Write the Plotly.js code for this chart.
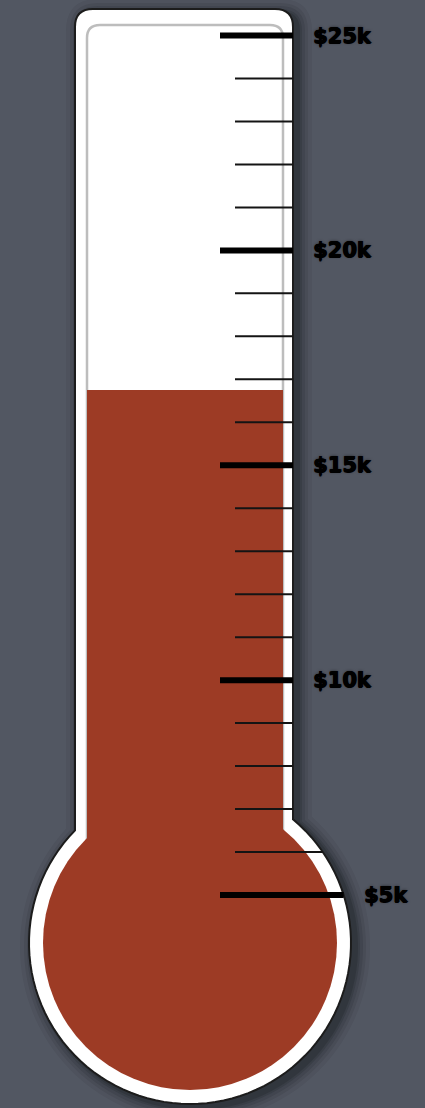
<!DOCTYPE html>
<html>
<head>
<meta charset="utf-8">
<script src="https://cdn.plot.ly/plotly-3.0.1.min.js"></script>
<style>
html,body{margin:0;padding:0;background:#525762;}
#chart{width:425px;height:1108px;}
</style>
</head>
<body>
<div id="chart"></div>
<script>
// ---- data ----
const categories = ['Raised'];
const raisedValues = [16.75];            // thousands of dollars
const majorTicks = [5, 10, 15, 20, 25];
const majorLabels = ['$5k', '$10k', '$15k', '$20k', '$25k'];
const minorTicks = [6, 7, 8, 9, 11, 12, 13, 14, 16, 17, 18, 19, 21, 22, 23, 24];

// ---- geometry / style ----
const W = 425, H = 1108;
const yRange = [0.044, 25.826];
const RED = '#9d3b25';
const BAR_BASE = 4;
const tube = {xL: 75, xR: 293, top: 9, r: 18, cx: 190, cy: 943, R: 161};
const channel = {xL: 87, xR: 283, top: 25, r: 13};
const bulbRed = 147;

const P = (x, y) => (x / W).toFixed(5) + ',' + (1 - y / H).toFixed(5);
const valToPx = v => (yRange[1] - v) / (yRange[1] - yRange[0]) * H;

function outlinePath(e, ox, oy) {
  const xL = tube.xL - e + ox, xR = tube.xR + e + ox, top = tube.top - e + oy;
  const r = tube.r + e, cx = tube.cx + ox, cy = tube.cy + oy, R = tube.R + e;
  const yJR = cy - Math.sqrt(R * R - (xR - cx) * (xR - cx));
  const yJL = cy - Math.sqrt(R * R - (cx - xL) * (cx - xL));
  let d = 'M' + P(xL, yJL) + ' L' + P(xL, top + r) + ' Q' + P(xL, top) + ' ' + P(xL + r, top) +
          ' L' + P(xR - r, top) + ' Q' + P(xR, top) + ' ' + P(xR, top + r) + ' L' + P(xR, yJR);
  const tR = Math.atan2(yJR - cy, xR - cx);
  let tL = Math.atan2(yJL - cy, xL - cx);
  if (tL < tR) tL += 2 * Math.PI;
  const n = 90;
  for (let i = 1; i <= n; i++) {
    const t = tR + (tL - tR) * i / n;
    d += ' L' + P(cx + R * Math.cos(t), cy + R * Math.sin(t));
  }
  return d + ' Z';
}

function edgeX(py) {
  const dy = py - tube.cy;
  if (Math.abs(dy) >= tube.R) return tube.xR;
  return Math.max(tube.xR, tube.cx + Math.sqrt(tube.R * tube.R - dy * dy));
}

const shapes = [];
// soft shadow
[[14, 0.06], [10, 0.08], [7, 0.10], [4, 0.13], [2, 0.16]].forEach(([e, a]) => {
  shapes.push({type: 'path', xref: 'paper', yref: 'paper', layer: 'below',
    path: outlinePath(e, 5, 4), fillcolor: 'rgba(10,12,18,' + a + ')', line: {width: 0}});
});
// white body with dark outline
shapes.push({type: 'path', xref: 'paper', yref: 'paper', layer: 'below',
  path: outlinePath(0, 0, 0), fillcolor: '#ffffff', line: {color: '#1c1c1c', width: 2}});
// inner channel line
(function () {
  const c = channel, yb = 845;
  const d = 'M' + P(c.xL, yb) + ' L' + P(c.xL, c.top + c.r) + ' Q' + P(c.xL, c.top) + ' ' + P(c.xL + c.r, c.top) +
            ' L' + P(c.xR - c.r, c.top) + ' Q' + P(c.xR, c.top) + ' ' + P(c.xR, c.top + c.r) + ' L' + P(c.xR, yb);
  shapes.push({type: 'path', xref: 'paper', yref: 'paper', layer: 'below',
    path: d, fillcolor: 'rgba(0,0,0,0)', line: {color: '#bdbdbd', width: 2.5}});
})();
// red bulb
shapes.push({type: 'circle', xref: 'paper', yref: 'paper', layer: 'below',
  x0: (tube.cx - bulbRed) / W, x1: (tube.cx + bulbRed) / W,
  y0: 1 - (tube.cy + bulbRed) / H, y1: 1 - (tube.cy - bulbRed) / H,
  fillcolor: RED, line: {width: 0}});

// ticks
majorTicks.forEach(v => {
  const x1 = edgeX(valToPx(v));
  shapes.push({type: 'line', xref: 'paper', yref: 'y', layer: 'above',
    x0: 220 / W, x1: x1 / W, y0: v, y1: v, line: {color: '#000000', width: 6}});
});
minorTicks.forEach(v => {
  const x1 = edgeX(valToPx(v));
  shapes.push({type: 'line', xref: 'paper', yref: 'y', layer: 'above',
    x0: 235 / W, x1: x1 / W, y0: v, y1: v, line: {color: '#141414', width: 2}});
});

const annotations = majorTicks.map((v, i) => ({
  xref: 'paper', yref: 'y', x: (edgeX(valToPx(v)) + 18) / W, y: v, yshift: 0,
  xanchor: 'left', yanchor: 'middle', showarrow: false, text: majorLabels[i],
  font: {family: 'DejaVu Sans, sans-serif', size: 21, color: '#000000', weight: 'bold',
         shadow: '0.7px 0 0 #000, -0.3px 0 0 #000, 0 0.5px 0 #000, 0 0 3px rgba(0,0,0,0.55)'}
}));

const trace = {
  type: 'bar', x: [185], y: raisedValues.map(v => v - BAR_BASE), base: [BAR_BASE], width: [196],
  marker: {color: RED, line: {width: 0}}, hoverinfo: 'skip', name: categories[0]
};

const layout = {
  width: W, height: H, margin: {l: 0, r: 0, t: 0, b: 0, pad: 0},
  paper_bgcolor: '#525762', plot_bgcolor: 'rgba(0,0,0,0)',
  showlegend: false,
  xaxis: {range: [0, W], visible: false, fixedrange: true},
  yaxis: {range: yRange, visible: false, fixedrange: true},
  shapes: shapes, annotations: annotations
};

Plotly.newPlot('chart', [trace], layout, {staticPlot: true, displayModeBar: false});
</script>
</body>
</html>
